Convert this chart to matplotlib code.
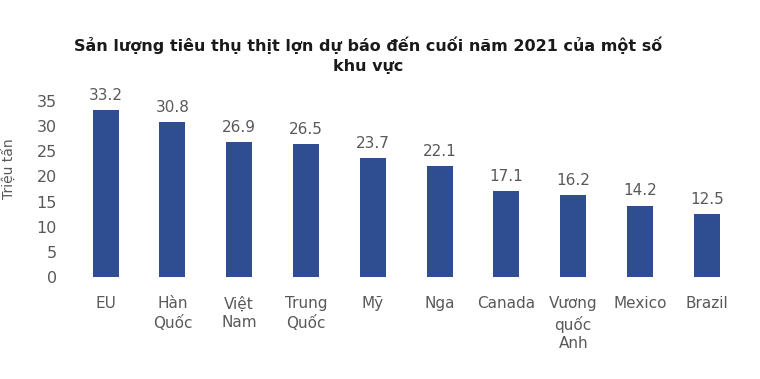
import matplotlib.pyplot as plt

# Dữ liệu: tiêu thụ thịt lợn dự báo (triệu tấn)
regions = ['EU', 'Hàn\nQuốc', 'Việt\nNam', 'Trung\nQuốc', 'Mỹ', 'Nga',
           'Canada', 'Vương\nquốc\nAnh', 'Mexico', 'Brazil']
values = [33.2, 30.8, 26.9, 26.5, 23.7, 22.1, 17.1, 16.2, 14.2, 12.5]
yticks = [0, 5, 10, 15, 20, 25, 30, 35]

plt.rcParams['font.family'] = ['DejaVu Sans']

fig = plt.figure(figsize=(7.6, 3.79), dpi=100)
ax = fig.add_axes([0.095, 0.269, 0.879, 0.465])

x = range(len(values))
bars = ax.bar(x, values, width=0.39, color='#2F4E92')
for b, v in zip(bars, values):
    ax.text(b.get_x() + b.get_width() / 2, v + 1.4, f'{v}', ha='center', va='bottom',
            fontsize=11, color='#595959', clip_on=False)

ax.set_xlim(-0.5, len(values) - 0.5)
ax.set_ylim(0, 35)
ax.set_yticks(yticks)
ax.set_xticks(list(x))
ax.set_xticklabels(regions, fontsize=11, color='#595959', linespacing=1.3)
ax.tick_params(axis='y', labelsize=11.5, labelcolor='#595959', length=0, pad=11)
ax.tick_params(axis='x', length=0, pad=14)
for s in ax.spines.values():
    s.set_visible(False)

fig.text(0.012, 0.555, 'Triệu tấn', rotation=90, ha='center', va='center',
         fontsize=10, color='#595959')

fig.text(0.484, 0.855, 'Sản lượng tiêu thụ thịt lợn dự báo đến cuối năm 2021 của một số\nkhu vực',
         ha='center', va='center', fontsize=11.5, fontweight='bold', color='#1a1a1a',
         linespacing=1.45)

plt.savefig('out.png')
